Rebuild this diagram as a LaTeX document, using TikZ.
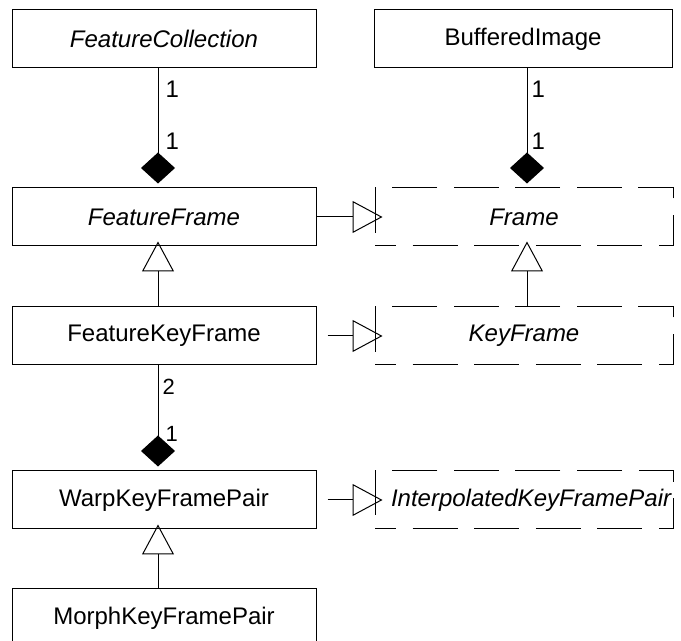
\documentclass[tikz,border=0pt]{standalone}
\usepackage{fontspec}
\setmainfont{Liberation Sans}
\usetikzlibrary{arrows.meta, positioning}

\begin{document}
\begin{tikzpicture}[
font=\fontsize{12}{14}\selectfont,
line width=0.5pt,
class/.style={rectangle, draw, minimum width=152pt, minimum height=29pt, inner sep=1pt},
iface/.style={rectangle, draw, dash pattern=on 22.5pt off 8.3pt, dash phase=12pt, minimum width=149pt, minimum height=29pt, inner sep=1pt, font=\fontsize{12}{14}\selectfont\itshape},
mult/.style={inner sep=0.5pt, anchor=west, font=\fontsize{12}{14}\selectfont},
smallmult/.style={mult, font=\fontsize{11}{13}\selectfont},
comp/.style={-{Diamond[length=15.5pt, width=17pt]}, shorten >=2pt},
gen/.style={-{Triangle[open, length=15pt, width=16pt]}},
real/.style={-{Triangle[open, length=15pt, width=16pt]}}
]
\useasboundingbox (0,0) rectangle (340.5pt,-320.5pt);

% left column
\node[class, font=\fontsize{12}{14}\selectfont\itshape] (fc) at (82pt,-19.5pt) {FeatureCollection};
\node[class, font=\fontsize{12}{14}\selectfont\itshape, below=59.5pt of fc] (ff) {FeatureFrame};
\node[class, below=30pt of ff] (fkf) {FeatureKeyFrame};
\node[class, below=52.5pt of fkf] (wkp) {WarpKeyFramePair};
\node[class, below=29.5pt of wkp] (mkp) {MorphKeyFramePair};

% right column
\node[class, minimum width=149pt, right=28.5pt of fc] (bi) {BufferedImage};
\node[iface, right=29pt of ff] (fr) {Frame};
\node[iface, right=29pt of fkf] (kf) {KeyFrame};
\node[iface, right=29pt of wkp] (ikp) {\hspace{7pt}InterpolatedKeyFramePair};

% composition
\draw[comp] ([xshift=-3pt]fc.south) -- ([xshift=-3pt]ff.north);
\draw[comp] ([xshift=2pt]bi.south) -- ([xshift=1.5pt]fr.north);
\draw[comp] ([xshift=-3pt]fkf.south) -- ([xshift=-3pt]wkp.north);

\node[mult] (fc1) at ([xshift=0pt, yshift=-10.5pt]fc.south) {1};
\node[mult] (ff1) at ([xshift=0pt, yshift=-36.5pt]fc.south) {1};
\node[mult] (bi1) at ([xshift=3.5pt, yshift=-10.5pt]bi.south) {1};
\node[mult] (fr1) at ([xshift=3.5pt, yshift=-36.5pt]bi.south) {1};
\node[smallmult] (fkf2) at ([xshift=-1.5pt, yshift=-10.5pt]fkf.south) {2};
\node[smallmult] (wkp1) at ([xshift=0pt, yshift=-34pt]fkf.south) {1};

% generalization
\draw[gen] ([xshift=-3pt]fkf.north) -- ([xshift=-3pt, yshift=2.5pt]ff.south);
\draw[gen] ([xshift=1.5pt]kf.north) -- ([xshift=1.5pt, yshift=2.5pt]fr.south);
\draw[gen] ([xshift=-3pt]mkp.north) -- ([xshift=-3pt, yshift=2.5pt]wkp.south);

% realization
\draw[real] (ff.east) -- ([xshift=4pt]fr.west);
\draw[real] ([xshift=5.5pt]fkf.east) -- ([xshift=4pt]kf.west);
\draw[real] ([xshift=5.5pt]wkp.east) -- ([xshift=4pt]ikp.west);

\end{tikzpicture}
\end{document}
